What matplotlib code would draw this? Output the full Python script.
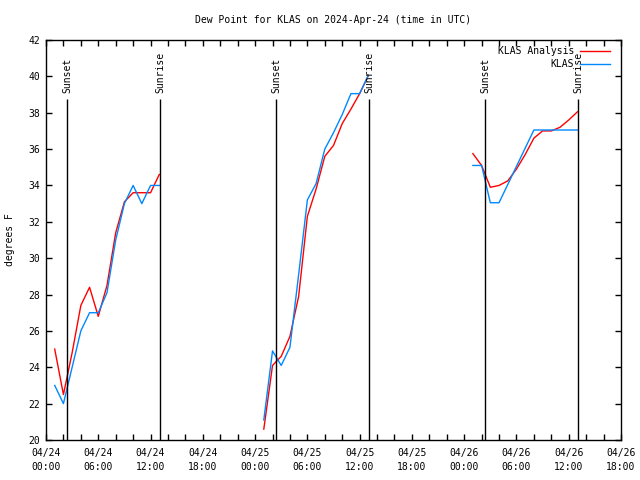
import matplotlib
matplotlib.use('Agg')
import matplotlib.pyplot as plt
import matplotlib.dates as mdates
import pandas as pd

# hourly values, three 13-hour windows (UTC)
day_starts = ['2024-04-24 01:00', '2024-04-25 01:00', '2024-04-26 01:00']

analysis = [
    [25.0, 22.5, 24.8, 27.4, 28.4, 26.8, 28.5, 31.4, 33.1, 33.6, 33.6, 33.6, 34.6],
    [20.6, 24.1, 24.6, 25.7, 27.9, 32.3, 33.8, 35.6, 36.2, 37.4, 38.2, 39.05, 40.05],
    [35.75, 35.1, 33.9, 34.0, 34.25, 34.9, 35.7, 36.6, 37.0, 37.0, 37.2, 37.6, 38.05],
]
klas = [
    [23.0, 22.0, 24.0, 26.0, 27.0, 27.0, 28.1, 31.0, 33.0, 34.0, 33.0, 34.0, 34.0],
    [21.1, 24.9, 24.1, 25.1, 29.1, 33.2, 34.1, 36.0, 36.9, 37.9, 39.05, 39.05, 40.05],
    [35.1, 35.1, 33.05, 33.05, 34.05, 35.05, 36.05, 37.05, 37.05, 37.05, 37.05, 37.05, 37.05],
]

sun_events = [('2024-04-24 02:25', 'Sunset'), ('2024-04-24 13:05', 'Sunrise'),
              ('2024-04-25 02:24', 'Sunset'), ('2024-04-25 13:05', 'Sunrise'),
              ('2024-04-26 02:24', 'Sunset'), ('2024-04-26 13:05', 'Sunrise')]

plt.rcParams['font.family'] = ['DejaVu Sans Mono']
plt.rcParams['font.size'] = 7

fig = plt.figure(figsize=(6.4, 4.8), dpi=100)
ax = fig.add_axes([46 / 640, 40 / 480, 575 / 640, 400 / 480])

red = '#ff0000'
blue = '#0088ff'
for i in range(len(day_starts)):
    t = pd.date_range(day_starts[i], periods=len(analysis[i]), freq='h')
    ax.plot(t, analysis[i], color=red, lw=1,
            label='KLAS Analysis' if i == 0 else None)
    ax.plot(t, klas[i], color=blue, lw=1, label='KLAS' if i == 0 else None)

for when, name in sun_events:
    t = pd.Timestamp(when)
    ax.vlines(t, 20, 38.75, color='black', lw=1)
    ax.text(t, 39.1, name, rotation=90, ha='center', va='bottom')

ax.set_xlim(pd.Timestamp('2024-04-24 00:00'), pd.Timestamp('2024-04-26 18:00'))
ax.set_ylim(20, 42)
ax.set_yticks(range(20, 43, 2))
ax.xaxis.set_major_locator(mdates.HourLocator(byhour=[0, 6, 12, 18]))
ax.xaxis.set_minor_locator(mdates.HourLocator(interval=2))
ax.xaxis.set_major_formatter(mdates.DateFormatter('%m/%d\n%H:%M'))
ax.tick_params(which='both', direction='in', top=True, right=True,
               length=4, width=1, pad=6)
ax.tick_params(axis='y', pad=4)
for lbl in ax.get_xticklabels():
    lbl.set_linespacing(1.5)
for s in ax.spines.values():
    s.set_linewidth(1)

ax.legend(loc='upper right', bbox_to_anchor=(0.981, 0.985), frameon=False,
          markerfirst=False, borderpad=0, borderaxespad=0, handlelength=3.1,
          handletextpad=0.6, labelspacing=0.3)

fig.text(333 / 640, 1 - 20 / 480, 'Dew Point for KLAS on 2024-Apr-24 (time in UTC)',
         ha='center', va='center')
fig.text(10 / 640, 0.5, 'degrees F', rotation=90, ha='center', va='center')

fig.savefig('out.png', dpi=100)
